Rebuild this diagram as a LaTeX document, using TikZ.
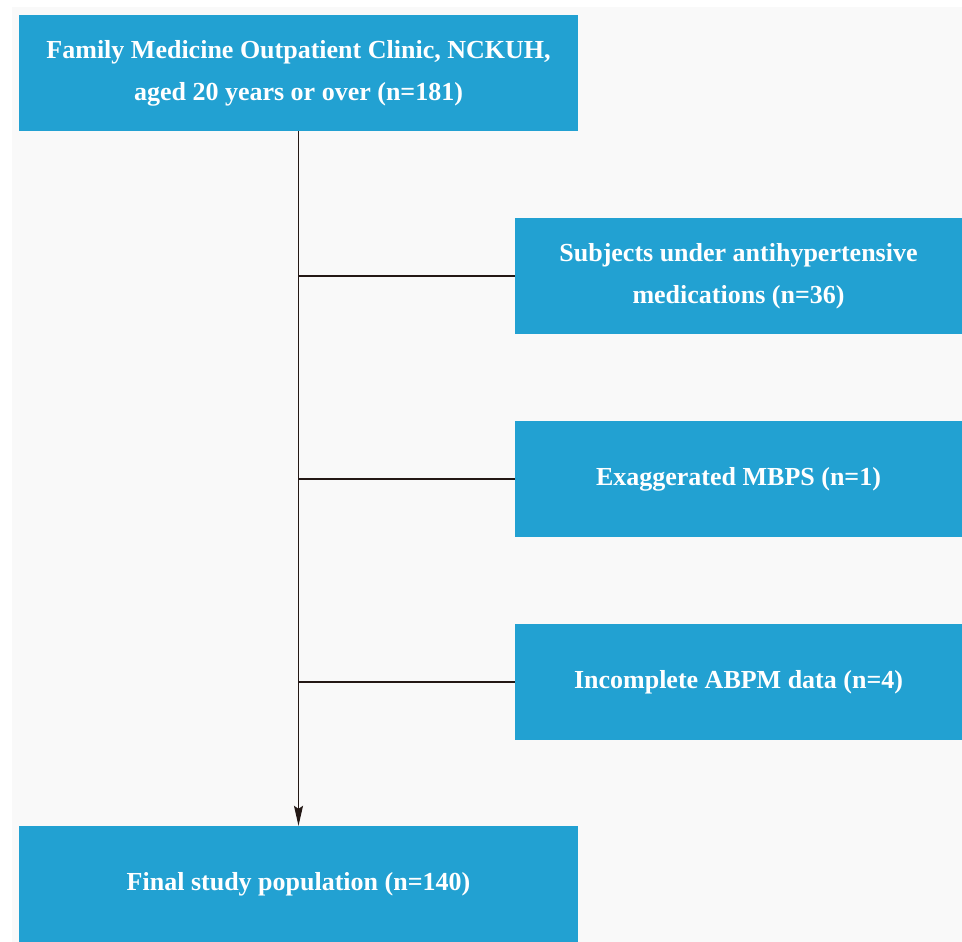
\documentclass[tikz,border=0pt]{standalone}
\usepackage{fontspec}
\setmainfont{Liberation Serif}
\usetikzlibrary{arrows.meta}
\definecolor{boxblue}{HTML}{22A1D2}
\definecolor{panel}{HTML}{F9F9F9}
\definecolor{linedark}{HTML}{231815}
\begin{document}
\begin{tikzpicture}[x=1pt,y=-1pt,
    every node/.style={fill=boxblue,text=white,font=\bfseries\fontsize{26}{42}\selectfont,
        align=center,inner sep=0pt,minimum height=116pt},
    line/.style={draw=linedark,line width=1.1pt}]
            \useasboundingbox (0,0) rectangle (962,942);
            \fill[panel] (12,7) rectangle (962,942);

            \node[minimum width=559pt] (start) at (298.5, 73)  {Family Medicine Outpatient Clinic, NCKUH,\\aged 20 years or over (n=181)};
            \node[minimum width=447pt] (ex1) at (738.5, 276)  {Subjects under antihypertensive\\medications (n=36)};
            \node[minimum width=447pt] (ex2) at (738.5, 479)  {Exaggerated MBPS (n=1)};
            \node[minimum width=447pt] (ex3) at (738.5, 682)  {Incomplete ABPM data (n=4)};
            \node[minimum width=559pt] (final) at (298.5, 884) {Final study population (n=140)};

            \coordinate (j1) at (start.south |- ex1.west);
            \coordinate (j2) at (start.south |- ex2.west);
            \coordinate (j3) at (start.south |- ex3.west);

            \draw[line,-{Stealth[length=20pt,width=9pt,inset=3pt]}] (start.south) -- (start.south |- final.north);
            \draw[line] (j1) -- (ex1.west);
            \draw[line] (j2) -- (ex2.west);
            \draw[line] (j3) -- (ex3.west);
        \end{tikzpicture}
\end{document}
